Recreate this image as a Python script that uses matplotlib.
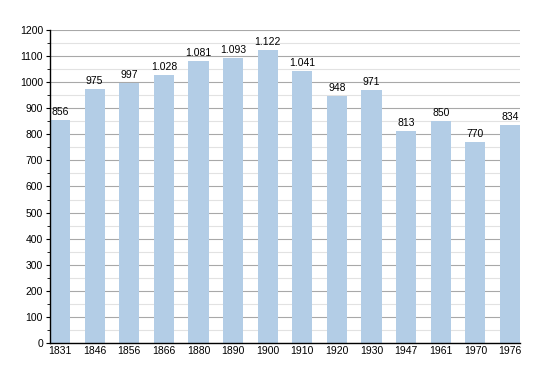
import matplotlib.pyplot as plt
from matplotlib.ticker import MultipleLocator

anni = ["1831", "1846", "1856", "1866", "1880", "1890", "1900",
        "1910", "1920", "1930", "1947", "1961", "1970", "1976"]
abitanti = [856, 975, 997, 1028, 1081, 1093, 1122,
            1041, 948, 971, 813, 850, 770, 834]

plt.rcParams["font.family"] = ["Liberation Sans", "DejaVu Sans"]
BLU = "#b3cde6"

fig = plt.figure(figsize=(5.5, 3.73), dpi=100)
ax = fig.add_axes([50 / 550, 30 / 373, 470 / 550, 313 / 373])

x = range(len(anni))
ax.bar(x, abitanti, width=0.58, color=BLU, zorder=2)
for xi, v in zip(x, abitanti):
    etichetta = f"{v:,}".replace(",", ".")
    ax.text(xi, v + 12, etichetta, ha="center", va="bottom", fontsize=7.5, zorder=3)

ax.set_xlim(-0.29, len(anni) - 1 + 0.29)
ax.set_ylim(0, 1200)
ax.set_xticks(list(x))
ax.set_xticklabels(anni)
ax.yaxis.set_major_locator(MultipleLocator(100))
ax.yaxis.set_minor_locator(MultipleLocator(50))
ax.grid(axis="y", which="major", color="#a8a8a8", lw=0.8, zorder=1)
ax.grid(axis="y", which="minor", color="#e2e2e2", lw=0.8, zorder=1)
ax.tick_params(axis="both", labelsize=7.5, length=3, width=0.8, pad=2)
ax.tick_params(axis="x", length=0)
ax.tick_params(axis="y", which="minor", length=2)
for lato in ("top", "right"):
    ax.spines[lato].set_visible(False)
ax.spines["left"].set_linewidth(1)
ax.spines["bottom"].set_linewidth(1)

fig.savefig("out.png", dpi=100)
